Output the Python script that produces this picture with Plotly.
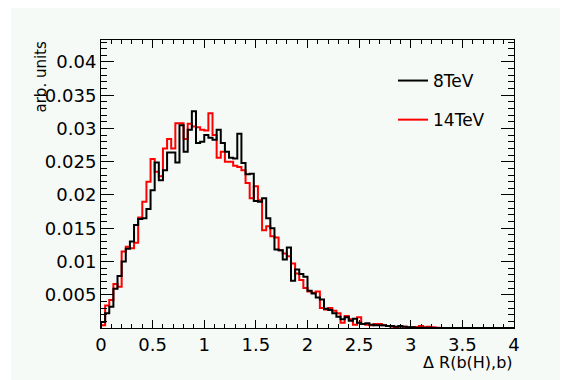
import plotly.graph_objects as go

# ---- data ----
bin_lo = 0.0
bin_hi = 4.0
n_bins = 100

series_names = ["8TeV", "14TeV"]

values_8tev = [
    0.0009, 0.0022, 0.0032, 0.0059, 0.0078, 0.0100, 0.0119, 0.0130, 0.0155, 0.0164,
    0.0165, 0.0179, 0.0207, 0.0249, 0.0222, 0.0237, 0.0264, 0.0264, 0.0249, 0.0305,
    0.0265, 0.0298, 0.0326, 0.0278, 0.0280, 0.0290, 0.0286, 0.0283, 0.0298, 0.0278,
    0.0265, 0.0256, 0.0255, 0.0292, 0.0248, 0.0231, 0.0232, 0.0191, 0.0190, 0.0195,
    0.0165, 0.0150, 0.0118, 0.0117, 0.0103, 0.0121, 0.0071, 0.0088, 0.0081, 0.0077,
    0.0056, 0.0052, 0.0046, 0.0043, 0.0029, 0.0027, 0.0022, 0.0017, 0.0013, 0.0016,
    0.0011, 0.0014, 0.0008, 0.0006, 0.0007, 0.0005, 0.0004, 0.0004, 0.0004, 0.0003,
    0.0003, 0.0002, 0.0003, 0.0002, 0.0001, 0.0001, 0.00005, 0.00005, 0.00005, 0.00005,
    0.0, 0.0, 0.0, 0.0, 0.0, 0.0, 0.0, 0.0, 0.0, 0.0,
    0.0, 0.0, 0.0, 0.0, 0.0, 0.0, 0.0, 0.0, 0.0, 0.0,
]

values_14tev = [
    0.0004, 0.0034, 0.0042, 0.0066, 0.0062, 0.0115, 0.0122, 0.0120, 0.0128, 0.0166,
    0.0190, 0.0220, 0.0254, 0.0235, 0.0228, 0.0270, 0.0284, 0.0270, 0.0308, 0.0308,
    0.0284, 0.0307, 0.0303, 0.0302, 0.0298, 0.0297, 0.0323, 0.0290, 0.0256, 0.0265,
    0.0250, 0.0250, 0.0244, 0.0242, 0.0237, 0.0218, 0.0195, 0.0213, 0.0192, 0.0147,
    0.0153, 0.0138, 0.0136, 0.0117, 0.0112, 0.0108, 0.0097, 0.0082, 0.0072, 0.0060,
    0.0055, 0.0053, 0.0055, 0.0030, 0.0028, 0.0030, 0.0026, 0.0022, 0.0008, 0.0018,
    0.0013, 0.0005, 0.0016, 0.0006, 0.0005, 0.0004, 0.0006, 0.0006, 0.0004, 0.0003,
    0.0002, 0.0001, 0.0002, 0.0002, 0.0001, 0.0001, 0.0001, 0.0003, 0.0001, 0.0002,
    0.0001, 0.00005, 0.0, 0.0, 0.0, 0.0, 0.0, 0.0, 0.0, 0.0,
    0.0, 0.0, 0.0, 0.0, 0.0, 0.0, 0.0, 0.0, 0.0, 0.0,
]

x_tick_vals = [0, 0.5, 1, 1.5, 2, 2.5, 3, 3.5, 4]
x_tick_text = ["0", "0.5", "1", "1.5", "2", "2.5", "3", "3.5", "4"]
y_tick_vals = [0.005, 0.01, 0.015, 0.02, 0.025, 0.03, 0.035, 0.04]
y_tick_text = ["0.005", "0.01", "0.015", "0.02", "0.025", "0.03", "0.035", "0.04"]

x_title = "Δ R(b(H),b)"
y_title = "arb. units"

# ---- build ----
width = (bin_hi - bin_lo) / n_bins
edges = [bin_lo + i * width for i in range(n_bins + 1)]


def step_xy(vals):
    xs = [edges[0]] + edges
    ys = [0.0] + list(vals) + [vals[-1]]
    return xs, ys


BG = "#f5faf7"
FONT = "DejaVu Sans"

# page has an 8px body margin: figure coords = page coords - 8
OFF = 8
W, H = 568 - OFF, 380 - OFF
L = 101 - OFF
T = 40 - OFF
R = W - (514 - OFF)
B = H - (328 - OFF)
pw = W - L - R
ph = H - T - B


def px(xpage):
    return (xpage - OFF - L) / pw


def py(ypage):
    return (H - B - (ypage - OFF)) / ph


fig = go.Figure()
x14, y14 = step_xy(values_14tev)
x8, y8 = step_xy(values_8tev)
fig.add_trace(go.Scatter(x=x14, y=y14, mode="lines", line=dict(color="#ff0000", width=2, shape="hv"),
                         name=series_names[1], legendgroup="b", legendrank=2))
fig.add_trace(go.Scatter(x=x8, y=y8, mode="lines", line=dict(color="#000000", width=2, shape="hv"),
                         name=series_names[0], legendgroup="a", legendrank=1))

fig.add_shape(type="rect", xref="paper", yref="paper",
              x0=px(11), x1=px(580), y0=py(390), y1=py(7),
              fillcolor=BG, line=dict(width=0), layer="below")

axis_common = dict(showline=True, linecolor="black", linewidth=1, mirror="allticks",
                   ticks="inside", tickcolor="black", showgrid=False, zeroline=False,
                   tickfont=dict(family=FONT, size=18, color="black"))

fig.update_xaxes(range=[bin_lo, bin_hi], tickvals=x_tick_vals, ticktext=x_tick_text,
                 ticklen=8, tickwidth=1,
                 minor=dict(ticks="inside", dtick=0.1, ticklen=4, tickcolor="black", showgrid=False),
                 **axis_common)
fig.update_yaxes(range=[0, 0.0433], tickvals=y_tick_vals, ticktext=y_tick_text,
                 ticklen=13, tickwidth=1,
                 minor=dict(ticks="inside", dtick=0.001, ticklen=6, tickcolor="black", showgrid=False),
                 **axis_common)

fig.add_annotation(text=y_title, xref="paper", yref="paper",
                   x=px(40), y=py(40), xanchor="center", yanchor="top",
                   textangle=-90, showarrow=False,
                   font=dict(family=FONT, size=15, color="black"))
fig.add_annotation(text=x_title, xref="paper", yref="paper",
                   x=px(515), y=py(362), xanchor="right", yanchor="middle",
                   showarrow=False, font=dict(family=FONT, size=16, color="black"))

fig.update_layout(
    width=W, height=H,
    margin=dict(l=L, r=R, t=T, b=B, autoexpand=False),
    paper_bgcolor="white", plot_bgcolor=BG,
    showlegend=True,
    legend=dict(x=px(393), y=py(63), xanchor="left", yanchor="top",
                bgcolor="rgba(0,0,0,0)", borderwidth=0,
                font=dict(family=FONT, size=17, color="black"),
                traceorder="grouped", tracegroupgap=14, itemwidth=30),
)

fig.write_html("out.html")
